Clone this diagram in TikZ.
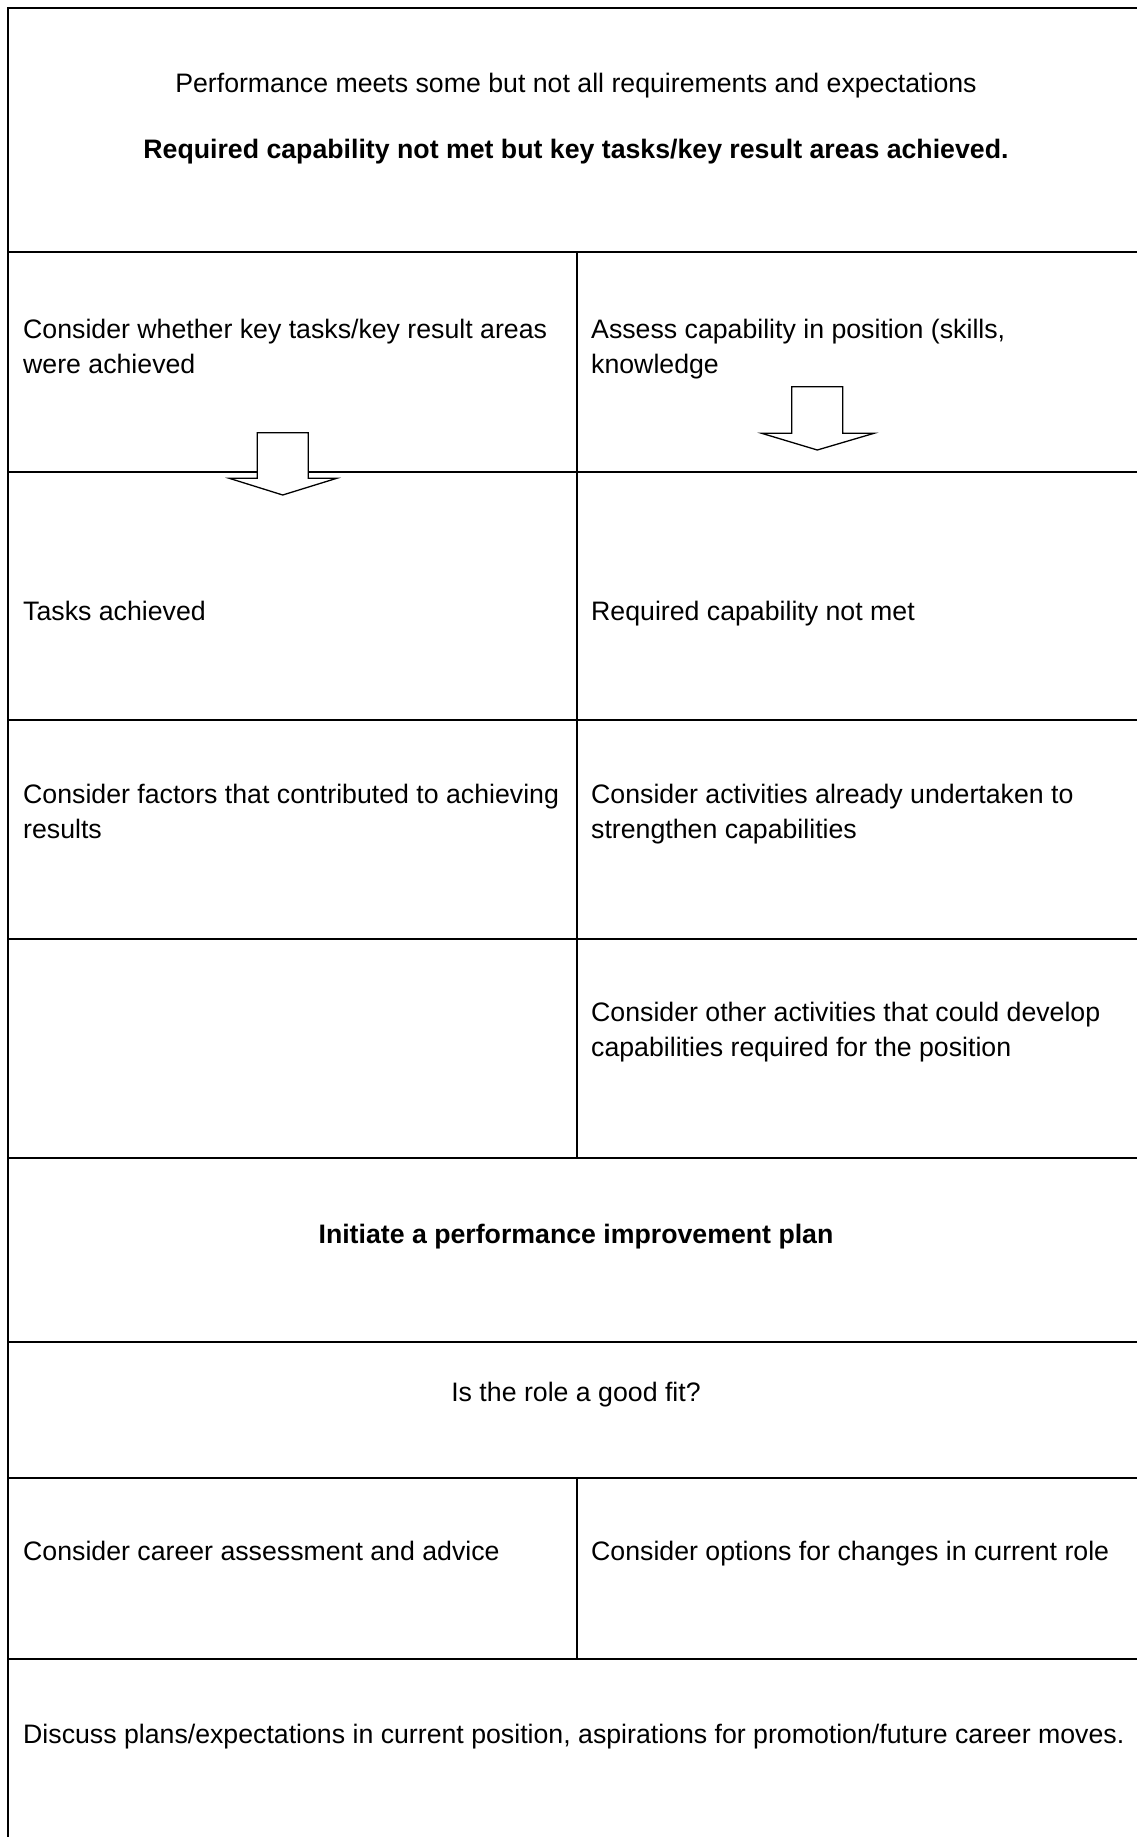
\documentclass[tikz,border=0pt]{standalone}
\usepackage{fontspec}
\setmainfont{Liberation Sans}
\tikzset{
  rule/.style={line width=2pt},
  blockarrow/.style={draw, fill=white, line width=1.3pt, line join=miter},
  celltext/.style={anchor=base west, inner sep=0pt, align=left,
    font=\fontsize{26.7}{34.7}\selectfont},
  midtext/.style={anchor=base, inner sep=0pt,
    font=\fontsize{26.7}{34.7}\selectfont},
}
\begin{document}
\begin{tikzpicture}[x=1pt,y=-1pt]
\useasboundingbox (0,0) rectangle (1137,1837);
% outer frame (cut off at right and bottom)
\draw[rule] (1140,8) -- (8,8) -- (8,1840);
\foreach \y in {252,472,720,939,1158,1342,1478,1659}
  \draw[rule] (8,\y) -- (1140,\y);
\draw[rule] (576.5,252) -- (576.5,1158);
\draw[rule] (576.5,1478) -- (576.5,1659);
% block arrows
\draw[blockarrow] (257.3,432.7) -- (308.3,432.7) -- (308.3,478.3) -- (336.7,478.3)
  -- (282.7,495) -- (229.3,478.3) -- (257.3,478.3) -- cycle;
\draw[blockarrow] (791.7,386.7) -- (842.7,386.7) -- (842.7,433.3) -- (874,433.3)
  -- (817.3,450) -- (761.7,433.3) -- (791.7,433.3) -- cycle;
% texts (two-line nodes sit on the baseline of their last line)
\node[midtext] (title) at (576,92) {Performance meets some but not all requirements and expectations};
\node[midtext, font=\fontsize{26.7}{34.7}\selectfont\bfseries] (titleb) at (576,158)
  {Required capability not met but key tasks/key result areas achieved.};
\node[celltext] (keytask) at (23,373) {Consider whether key tasks/key result areas\\were achieved};
\node[celltext] (capab) at (591,373) {Assess capability in position (skills,\\knowledge};
\node[celltext] (tasks) at (23,620) {Tasks achieved};
\node[celltext] (capnot) at (591,620) {Required capability not met};
\node[celltext] (factors) at (23,838) {Consider factors that contributed to achieving\\results};
\node[celltext] (activ) at (591,838) {Consider activities already undertaken to\\strengthen capabilities};
\node[celltext] (other) at (591,1056) {Consider other activities that could develop\\capabilities required for the position};
\node[midtext, font=\fontsize{26.7}{34.7}\selectfont\bfseries] (pip) at (576,1243)
  {Initiate a performance improvement plan};
\node[midtext] (fit) at (576,1401) {Is the role a good fit?};
\node[celltext] (career) at (23,1560) {Consider career assessment and advice};
\node[celltext] (options) at (591,1560) {Consider options for changes in current role};
\node[celltext] (discuss) at (23,1743)
  {Discuss plans/expectations in current position, aspirations for promotion/future career moves.};
\end{tikzpicture}
\end{document}
